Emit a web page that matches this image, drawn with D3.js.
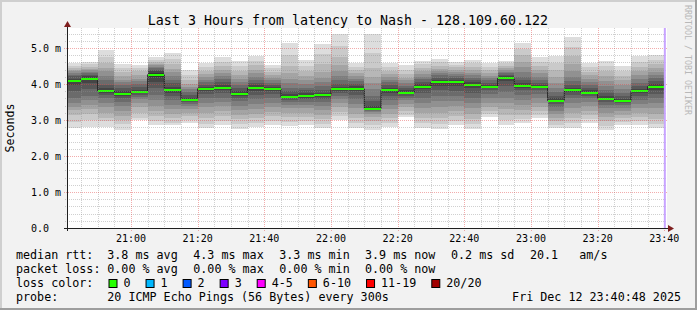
<!DOCTYPE html>
<html>
<head>
<meta charset="utf-8">
<script src="https://cdn.jsdelivr.net/npm/d3@7"></script>
<style>
body { margin: 0; background: #f3f3f3; }
svg { display: block; }
text { font-family: "DejaVu Sans Mono", monospace; white-space: pre; }
</style>
</head>
<body>
<svg id="chart" width="697" height="310"></svg>
<script>
// time window of the graph
const startTime = new Date(2025, 11, 12, 20, 40, 48);
const endTime = new Date(2025, 11, 12, 23, 40, 48);

// 5 minute slots (start of each step)
const slots = ["20:40","20:45","20:50","20:55","21:00","21:05","21:10","21:15","21:20","21:25","21:30","21:35",
    "21:40","21:45","21:50","21:55","22:00","22:05","22:10","22:15","22:20","22:25","22:30","22:35",
    "22:40","22:45","22:50","22:55","23:00","23:05","23:10","23:15","23:20","23:25","23:30","23:35"];

// median rtt per slot, ms
const medians = [4.08, 4.15, 3.81, 3.72, 3.79, 4.26, 3.83, 3.56, 3.87, 3.90, 3.73, 3.89,
    3.87, 3.64, 3.67, 3.69, 3.85, 3.87, 3.31, 3.83, 3.76, 3.93, 4.05, 4.05,
    3.98, 3.93, 4.16, 3.95, 3.93, 3.54, 3.83, 3.76, 3.59, 3.52, 3.80, 3.93];

// 20 sorted pings per slot, ms
const pings = [
    [2.77,2.95,3.15,3.28,3.35,3.48,3.62,3.80,3.98,4.05,4.11,4.15,4.22,4.26,4.30,4.35,4.40,4.45,4.50,4.57],
    [2.80,3.00,3.18,3.30,3.42,3.55,3.68,3.85,4.02,4.12,4.18,4.22,4.26,4.30,4.34,4.38,4.43,4.48,4.55,4.61],
    [2.80,2.96,3.05,3.20,3.35,3.48,3.60,3.70,3.76,3.79,3.83,3.88,3.98,4.10,4.22,4.35,4.45,4.58,4.75,4.95],
    [2.73,2.88,3.00,3.12,3.25,3.38,3.50,3.60,3.67,3.70,3.74,3.80,3.88,3.96,4.05,4.12,4.22,4.32,4.44,4.55],
    [3.00,3.05,3.20,3.35,3.48,3.58,3.65,3.70,3.75,3.78,3.80,3.84,3.92,4.00,4.08,4.15,4.25,4.35,4.45,4.53],
    [2.85,2.98,3.10,3.25,3.40,3.55,3.70,3.88,4.05,4.20,4.30,4.35,4.40,4.44,4.48,4.52,4.56,4.60,4.67,4.74],
    [2.85,2.92,3.05,3.18,3.30,3.42,3.55,3.66,3.75,3.81,3.85,3.92,4.02,4.12,4.22,4.32,4.42,4.55,4.70,4.86],
    [2.92,3.00,3.10,3.20,3.30,3.38,3.45,3.50,3.53,3.55,3.57,3.62,3.70,3.78,3.85,3.92,4.00,4.10,4.25,4.40],
    [2.78,2.90,3.05,3.20,3.35,3.48,3.60,3.72,3.80,3.85,3.89,3.92,3.98,4.05,4.12,4.20,4.28,4.36,4.48,4.58],
    [2.85,2.98,3.12,3.25,3.38,3.50,3.62,3.74,3.82,3.88,3.92,3.98,4.06,4.14,4.22,4.30,4.40,4.50,4.62,4.74],
    [2.76,2.90,3.02,3.15,3.28,3.40,3.52,3.62,3.68,3.72,3.75,3.80,3.88,3.96,4.05,4.14,4.25,4.36,4.50,4.65],
    [2.80,2.92,3.05,3.18,3.30,3.45,3.58,3.70,3.80,3.87,3.91,3.96,4.04,4.12,4.20,4.30,4.40,4.52,4.65,4.77],
    [2.86,2.98,3.10,3.22,3.35,3.48,3.60,3.72,3.80,3.85,3.89,3.93,3.98,4.04,4.10,4.18,4.26,4.34,4.44,4.53],
    [2.82,2.95,3.08,3.20,3.32,3.42,3.50,3.56,3.60,3.63,3.66,3.72,3.80,3.90,4.02,4.15,4.30,4.50,4.80,5.14],
    [2.85,2.96,3.08,3.20,3.32,3.42,3.50,3.57,3.62,3.66,3.69,3.74,3.82,3.90,4.00,4.10,4.22,4.35,4.50,4.67],
    [2.78,2.90,3.02,3.15,3.28,3.40,3.50,3.58,3.64,3.68,3.71,3.76,3.84,3.94,4.05,4.18,4.34,4.55,4.82,5.11],
    [3.01,3.10,3.22,3.35,3.48,3.58,3.66,3.74,3.80,3.84,3.87,3.92,4.00,4.10,4.22,4.36,4.52,4.75,5.05,5.39],
    [2.78,2.92,3.05,3.18,3.32,3.45,3.58,3.70,3.80,3.85,3.89,3.94,4.00,4.08,4.15,4.22,4.30,4.38,4.48,4.58],
    [2.73,2.85,2.98,3.08,3.16,3.22,3.26,3.28,3.30,3.31,3.32,3.40,3.52,3.68,3.85,4.02,4.20,4.45,4.85,5.39],
    [2.80,2.92,3.05,3.18,3.30,3.42,3.55,3.66,3.76,3.81,3.85,3.90,3.97,4.05,4.12,4.20,4.28,4.36,4.46,4.58],
    [3.07,3.15,3.25,3.35,3.45,3.55,3.62,3.68,3.73,3.75,3.77,3.82,3.88,3.95,4.02,4.10,4.18,4.28,4.40,4.54],
    [2.78,2.92,3.06,3.20,3.34,3.48,3.62,3.75,3.85,3.91,3.95,4.00,4.06,4.13,4.20,4.28,4.36,4.45,4.55,4.65],
    [2.76,2.90,3.05,3.20,3.36,3.52,3.68,3.82,3.95,4.03,4.07,4.12,4.18,4.24,4.30,4.36,4.43,4.50,4.60,4.70],
    [2.87,2.98,3.10,3.24,3.38,3.52,3.66,3.80,3.94,4.03,4.07,4.11,4.16,4.21,4.27,4.33,4.40,4.47,4.54,4.61],
    [2.76,2.90,3.04,3.18,3.32,3.46,3.60,3.74,3.88,3.96,4.00,4.05,4.11,4.17,4.24,4.31,4.39,4.47,4.57,4.67],
    [3.09,3.16,3.25,3.36,3.48,3.60,3.72,3.82,3.89,3.92,3.94,3.98,4.04,4.10,4.16,4.23,4.30,4.38,4.48,4.58],
    [2.87,3.00,3.14,3.30,3.46,3.62,3.78,3.94,4.08,4.14,4.18,4.22,4.26,4.30,4.34,4.39,4.44,4.50,4.57,4.65],
    [2.92,3.02,3.14,3.28,3.42,3.56,3.70,3.82,3.90,3.93,3.97,4.02,4.10,4.20,4.32,4.46,4.62,4.80,4.98,5.14],
    [3.06,3.14,3.24,3.36,3.48,3.60,3.72,3.82,3.89,3.92,3.94,3.98,4.04,4.12,4.20,4.30,4.40,4.50,4.62,4.74],
    [2.77,2.86,2.96,3.06,3.16,3.26,3.36,3.44,3.50,3.53,3.55,3.60,3.68,3.78,3.90,4.04,4.20,4.38,4.58,4.78],
    [2.78,2.92,3.06,3.20,3.34,3.48,3.60,3.70,3.78,3.82,3.84,3.90,3.98,4.08,4.20,4.36,4.55,4.78,5.04,5.30],
    [2.92,3.02,3.14,3.26,3.38,3.50,3.60,3.68,3.73,3.75,3.78,3.83,3.90,3.98,4.06,4.15,4.24,4.34,4.46,4.58],
    [2.73,2.84,2.96,3.08,3.20,3.32,3.42,3.50,3.55,3.58,3.61,3.66,3.74,3.84,3.95,4.08,4.22,4.36,4.50,4.65],
    [2.85,2.95,3.05,3.15,3.25,3.34,3.42,3.47,3.50,3.51,3.53,3.58,3.66,3.75,3.86,3.98,4.10,4.22,4.36,4.49],
    [2.85,2.96,3.08,3.20,3.32,3.44,3.56,3.66,3.74,3.79,3.81,3.86,3.94,4.03,4.13,4.24,4.36,4.48,4.62,4.77],
    [2.78,2.90,3.04,3.18,3.32,3.46,3.60,3.72,3.84,3.91,3.95,4.00,4.08,4.16,4.25,4.34,4.44,4.55,4.67,4.80]
];

// legend data
const statNames = ["avg", "max", "min", "now", "sd"];
const rttStats = [3.8, 4.3, 3.3, 3.9, 0.2];
const lossStats = [0.00, 0.00, 0.00, 0.00];
const lossLabels = ["0", "1", "2", "3", "4-5", "6-10", "11-19", "20/20"];
const lossColors = ["#26ff00", "#00b8ff", "#0059ff", "#7e00ff", "#ff00ff", "#ff5500", "#ff0000", "#a10000"];
const amps = 20.1;
const probeText = "20 ICMP Echo Pings (56 Bytes) every 300s";
const stampText = "Fri Dec 12 23:40:48 2025";

const W = 697, H = 310;
const plotL = 67, plotR = 667, plotT = 28, plotB = 228;
const yMax = 200 / 36;

const svg = d3.select("#chart");
const parse = d3.timeParse("%Y-%m-%d %H:%M");
const slotTime = s => parse("2025-12-12 " + s);

const x = d3.scaleTime().domain([startTime, endTime]).range([plotL, plotR]);
const y = d3.scaleLinear().domain([0, yMax]).range([plotB, plotT]);

// background + 3d border
svg.append("rect").attr("width", W).attr("height", H).attr("fill", "#f2f2f2");
svg.append("path").attr("d", `M0,${H}V0H${W}`).attr("fill", "none")
    .attr("stroke", "#cfcfcf").attr("stroke-width", 4);
svg.append("path").attr("d", `M0,${H}H${W}V0`).attr("fill", "none")
    .attr("stroke", "#9e9e9e").attr("stroke-width", 4);

svg.append("rect").attr("x", plotL).attr("y", plotT)
    .attr("width", plotR - plotL).attr("height", plotB - plotT).attr("fill", "#fff");

// smoke: outer pair first, lighter; inner pairs darker
const half = 10;
const shade = i => { const c = Math.floor(190 / half * (half - 1 - i)) + 50; return d3.rgb(c, c, c); };

const slotX0 = s => Math.max(x(slotTime(s)), plotL);
const slotX1 = s => x(d3.timeMinute.offset(slotTime(s), 5));

const smoke = svg.append("g").attr("shape-rendering", "crispEdges");
slots.forEach((s, k) => {
    smoke.selectAll(null)
        .data(d3.range(half))
        .join("rect")
        .attr("x", slotX0(s))
        .attr("width", slotX1(s) - slotX0(s))
        .attr("y", i => y(pings[k][19 - i]))
        .attr("height", i => y(pings[k][i]) - y(pings[k][19 - i]))
        .attr("fill", i => shade(i));
});

// median step line
const steps = slots.map((s, k) => [slotX0(s), y(medians[k])]);
steps.push([slotX1(slots[slots.length - 1]), y(medians[medians.length - 1])]);
svg.append("path")
    .attr("d", d3.line().curve(d3.curveStepAfter)(steps))
    .attr("fill", "none").attr("stroke", "#202020").attr("stroke-width", 1);

// median marks coloured by loss (all 0 here)
svg.append("g").attr("shape-rendering", "crispEdges").selectAll("rect")
    .data(slots)
    .join("rect")
    .attr("x", s => slotX0(s))
    .attr("width", s => slotX1(s) - slotX0(s))
    .attr("y", (s, k) => y(medians[k]) - 1)
    .attr("height", 2)
    .attr("fill", lossColors[0]);

// grid on top
const grid = svg.append("g").attr("shape-rendering", "crispEdges");
const minorX = d3.timeMinute.every(5).range(startTime, endTime);
const majorX = d3.timeMinute.every(20).range(startTime, endTime);
const minorY = y.ticks(28);
const majorY = y.ticks(5);
const isMajorX = d => d.getMinutes() % 20 === 0;
const minorCol = "rgba(143,143,143,0.42)";
const majorCol = "rgba(226,70,70,0.45)";

grid.selectAll(".vx").data(minorX.filter(d => !isMajorX(d))).join("line")
    .attr("x1", d => Math.round(x(d)) + 0.5).attr("x2", d => Math.round(x(d)) + 0.5)
    .attr("y1", plotT).attr("y2", plotB + 2)
    .attr("stroke", minorCol).attr("stroke-dasharray", "1,1");
grid.selectAll(".hy").data(minorY.filter(v => Math.abs(v - Math.round(v)) > 1e-6)).join("line")
    .attr("x1", plotL - 2).attr("x2", plotR)
    .attr("y1", v => Math.round(y(v)) + 0.5).attr("y2", v => Math.round(y(v)) + 0.5)
    .attr("stroke", minorCol).attr("stroke-dasharray", "1,1");
grid.selectAll(".VX").data(majorX).join("line")
    .attr("x1", d => Math.round(x(d)) + 0.5).attr("x2", d => Math.round(x(d)) + 0.5)
    .attr("y1", plotT).attr("y2", plotB + 3)
    .attr("stroke", majorCol).attr("stroke-dasharray", "1,1");
grid.selectAll(".HY").data(majorY.filter(v => v > 0)).join("line")
    .attr("x1", plotL - 3).attr("x2", plotR)
    .attr("y1", v => Math.round(y(v)) + 0.5).attr("y2", v => Math.round(y(v)) + 0.5)
    .attr("stroke", majorCol).attr("stroke-dasharray", "1,1");

// now marker
svg.append("line")
    .attr("x1", x(slotTime("23:40")) + 0.5).attr("x2", x(slotTime("23:40")) + 0.5)
    .attr("y1", plotT).attr("y2", plotB)
    .attr("stroke", "#c8a4ff").attr("stroke-width", 2);

// axes
svg.append("line").attr("x1", plotL - 3).attr("x2", plotR + 3)
    .attr("y1", plotB + 0.5).attr("y2", plotB + 0.5).attr("stroke", "#202020");
svg.append("line").attr("x1", plotL + 0.5).attr("x2", plotL + 0.5)
    .attr("y1", plotB + 3).attr("y2", plotT - 3).attr("stroke", "#202020");
svg.append("path").attr("d", `M${plotR + 1},${plotB - 3}L${plotR + 7},${plotB + 0.5}L${plotR + 1},${plotB + 4}Z`)
    .attr("fill", "#7f1f1f");
svg.append("path").attr("d", `M${plotL - 3},${plotT - 1}L${plotL + 0.5},${plotT - 7}L${plotL + 4},${plotT - 1}Z`)
    .attr("fill", "#7f1f1f");

// tick labels
svg.append("g").selectAll("text").data(majorX).join("text")
    .attr("x", d => x(d)).attr("y", plotB + 14)
    .attr("text-anchor", "middle").attr("font-size", 10)
    .text(d3.timeFormat("%H:%M"));
svg.append("g").selectAll("text").data(majorY).join("text")
    .attr("x", 31).attr("y", v => y(v) + 3.5)
    .attr("font-size", 10)
    .text(v => v === 0 ? "0.0" : d3.format(".1f")(v) + " m");

// title and axis label
svg.append("text").attr("x", 348).attr("y", 24.5).attr("text-anchor", "middle")
    .attr("font-size", 13.3).text("Last 3 Hours from latency to Nash - 128.109.60.122");
svg.append("text").attr("transform", "translate(14,128) rotate(-90)")
    .attr("text-anchor", "middle").attr("font-size", 11.6).text("Seconds");
svg.append("text").attr("transform", "translate(685,5) rotate(90)")
    .attr("font-size", 8.3).attr("fill", "#b8b8b8").text("RRDTOOL / TOBI OETIKER");

// legend
const lg = svg.append("g").attr("font-size", 11.7);
const cols = [107.3, 193.3, 279.3, 365, 451];
lg.append("text").attr("x", 16).attr("y", 258.5).text("median rtt:");
lg.selectAll(".rtt").data(rttStats).join("text")
    .attr("x", (d, i) => cols[i]).attr("y", 258.5)
    .text((d, i) => d3.format(".1f")(d) + " ms " + statNames[i]);
lg.append("text").attr("x", 530).attr("y", 258.5).text(d3.format(".1f")(amps));
lg.append("text").attr("x", 579.3).attr("y", 258.5).text("am/s");

lg.append("text").attr("x", 16).attr("y", 272.5).text("packet loss:");
lg.selectAll(".loss").data(lossStats).join("text")
    .attr("x", (d, i) => cols[i]).attr("y", 272.5)
    .text((d, i) => d3.format(".2f")(d) + " % " + statNames[i]);

lg.append("text").attr("x", 16).attr("y", 286.5).text("loss color:");
let bx = 108.5;
lossLabels.forEach((lab, i) => {
    lg.append("rect").attr("x", bx + 0.5).attr("y", 279.5).attr("width", 8).attr("height", 8)
        .attr("fill", lossColors[i]).attr("stroke", "#000");
    lg.append("text").attr("x", bx + 15).attr("y", 286.5).text(lab);
    bx += 15 + 7.05 * lab.length + 15;
});

lg.append("text").attr("x", 16).attr("y", 300.5).text("probe:");
lg.append("text").attr("x", 107.3).attr("y", 300.5).text(probeText);
lg.append("text").attr("x", 681).attr("y", 300.5).attr("text-anchor", "end").text(stampText);
</script>
</body>
</html>
